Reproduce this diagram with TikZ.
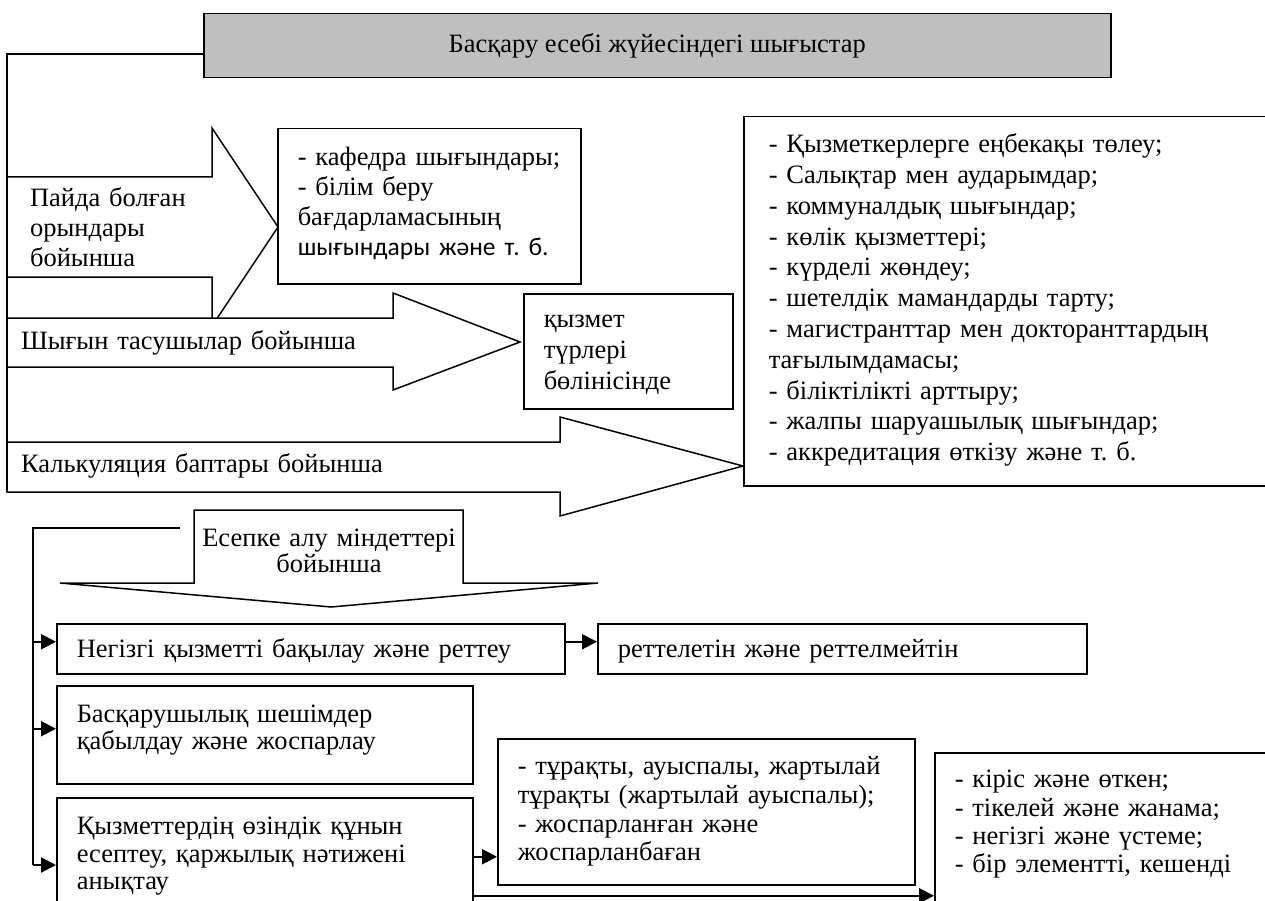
\documentclass[tikz,border=0pt]{standalone}
\usepackage{fontspec}
\setmainfont{Liberation Serif}
\newfontfamily\calibrifont{Carlito}
\usetikzlibrary{arrows.meta}
\definecolor{scFill}{HTML}{BFBFBF}
\frenchspacing
\tikzset{
  sc diagram/.style={x=1pt, y=-1pt, font=\fontsize{26.5}{30}\selectfont,
    line width=1.5pt, line join=miter},
  sc box/.style={draw, fill=white, anchor=north west, align=left,
    inner xsep=20pt, inner ysep=0pt},
  sc title/.style={draw, fill=scFill, anchor=north west, align=center},
  sc block/.style={draw, fill=white},
  sc label/.style={anchor=base west, align=left},
  sc arrow/.style={-{Triangle[length=15pt,width=15pt]}, line width=2pt},
  sc line/.style={line width=1.6pt}
}
\begin{document}
\begin{tikzpicture}[sc diagram]
\clip (0,0) rectangle (1265,901);
\node[sc title, minimum width=907pt, minimum height=64pt] (title) at (203,13)
  {Басқару есебі жүйесіндегі шығыстар};
\coordinate (calcfoot) at (7,492);
\draw[sc line] ([yshift=-8pt]title.west) -| (calcfoot);
% block arrows
\draw[sc block] (7,177) -- (212,177) -- (212,128) -- (278,227) -- (212,326) -- (212,277) -- (7,277) -- cycle;
\draw[sc block] (7,318) -- (393,318) -- (393,293) -- (520,342) -- (393,390) -- (393,367) -- (7,367) -- cycle;
\draw[sc block] (7,442) -- (560,442) -- (560,417) -- (743,466) -- (560,516) -- (560,492) -- (7,492) -- cycle;
\node[sc label, text width=180pt] (byplace) at (26,207) {Пайда болған\\орындары\\бойынша};
\node[sc label, text width=370pt] (bycarrier) at (17,349) {Шығын тасушылар бойынша};
\node[sc label, text width=500pt] (bycalc) at (17,472) {Калькуляция баптары бойынша};
% right hand boxes
\node[sc box, text width=263pt, text height=37pt, text depth=118pt] (kafedra) at (277,128)
  {- кафедра шығындары;\\- білім беру\\бағдарламасының\\\mbox{\calibrifont\fontsize{25.5}{30}\selectfont шығындары және т. б.}};
\node[sc box, text width=169pt, text height=34pt, text depth=81pt,
  font=\fontsize{26.5}{31}\selectfont] (services) at (523,293) {қызмет\\түрлері\\бөлінісінде};
\node[sc box, text width=520pt, inner xsep=25pt, text height=36pt, text depth=333pt,
  font=\fontsize{26.5}{30.8}\selectfont] (costs) at (743,116)
  {- Қызметкерлерге еңбекақы төлеу;\\- Салықтар мен аударымдар;\\- коммуналдық шығындар;\\
   - көлік қызметтері;\\- күрделі жөндеу;\\- шетелдік мамандарды тарту;\\
   - магистранттар мен докторанттардың\\тағылымдамасы;\\- біліктілікті арттыру;\\
   - жалпы шаруашылық шығындар;\\- аккредитация өткізу және т. б.};
% accounting tasks
\draw[sc block] (194,510) -- (463,510) -- (463,583) -- (598,583) -- (331,607) -- (60,583) -- (194,583) -- cycle;
\node[anchor=base, align=center, text width=260pt] (bytask) at (329,546)
  {Есепке алу міндеттері\\[-4pt]бойынша};
\node[sc box, text width=468pt, text height=34pt, text depth=16pt] (control) at (56,623)
  {Негізгі қызметті бақылау және реттеу};
\node[sc box, text width=449pt, text height=34pt, text depth=16pt] (regulated) at (597,623)
  {реттелетін және реттелмейтін};
\node[sc box, text width=376pt, text height=37pt, text depth=61pt,
  font=\fontsize{26.5}{27}\selectfont] (decisions) at (56,685)
  {Басқарушылық шешімдер\\қабылдау және жоспарлау};
\node[sc box, text width=376pt, text height=37pt, text depth=81pt,
  font=\fontsize{26.5}{27.5}\selectfont] (costing) at (56,797)
  {Қызметтердің өзіндік құнын\\есептеу, қаржылық нәтижені\\анықтау};
\node[sc box, text width=377pt, text height=36pt, text depth=110pt,
  font=\fontsize{26.5}{28.7}\selectfont] (behaviour) at (497,738)
  {- тұрақты, ауыспалы, жартылай\\тұрақты (жартылай ауыспалы);\\- жоспарланған және\\жоспарланбаған};
\node[sc box, text width=400pt, text height=35pt, text depth=163pt,
  font=\fontsize{26.5}{28.3}\selectfont] (kinds) at (934,752)
  {- кіріс және өткен;\\- тікелей және жанама;\\- негізгі және үстеме;\\- бір элементті, кешенді};
% connectors
\coordinate (taskfeed) at (180,528);
\coordinate (spinefoot) at (33,865);
\draw[sc line] (taskfeed) -| (spinefoot);
\draw[sc arrow] ([yshift=7pt]spinefoot |- control.west) -- ([yshift=7pt]control.west);
\draw[sc arrow] ([yshift=6pt]spinefoot |- decisions.west) -- ([yshift=6pt]decisions.west);
\draw[sc arrow] (spinefoot) -- (spinefoot -| costing.west);
\draw[sc arrow] ([yshift=7pt]control.east) -- ([yshift=7pt]control.east -| regulated.west);
\draw[sc arrow] (costing.east) -- (costing.east -| behaviour.west);
\draw[sc arrow] ([yshift=-39pt]costing.east) -- ([yshift=-39pt]costing.east -| kinds.west);
\end{tikzpicture}
\end{document}
